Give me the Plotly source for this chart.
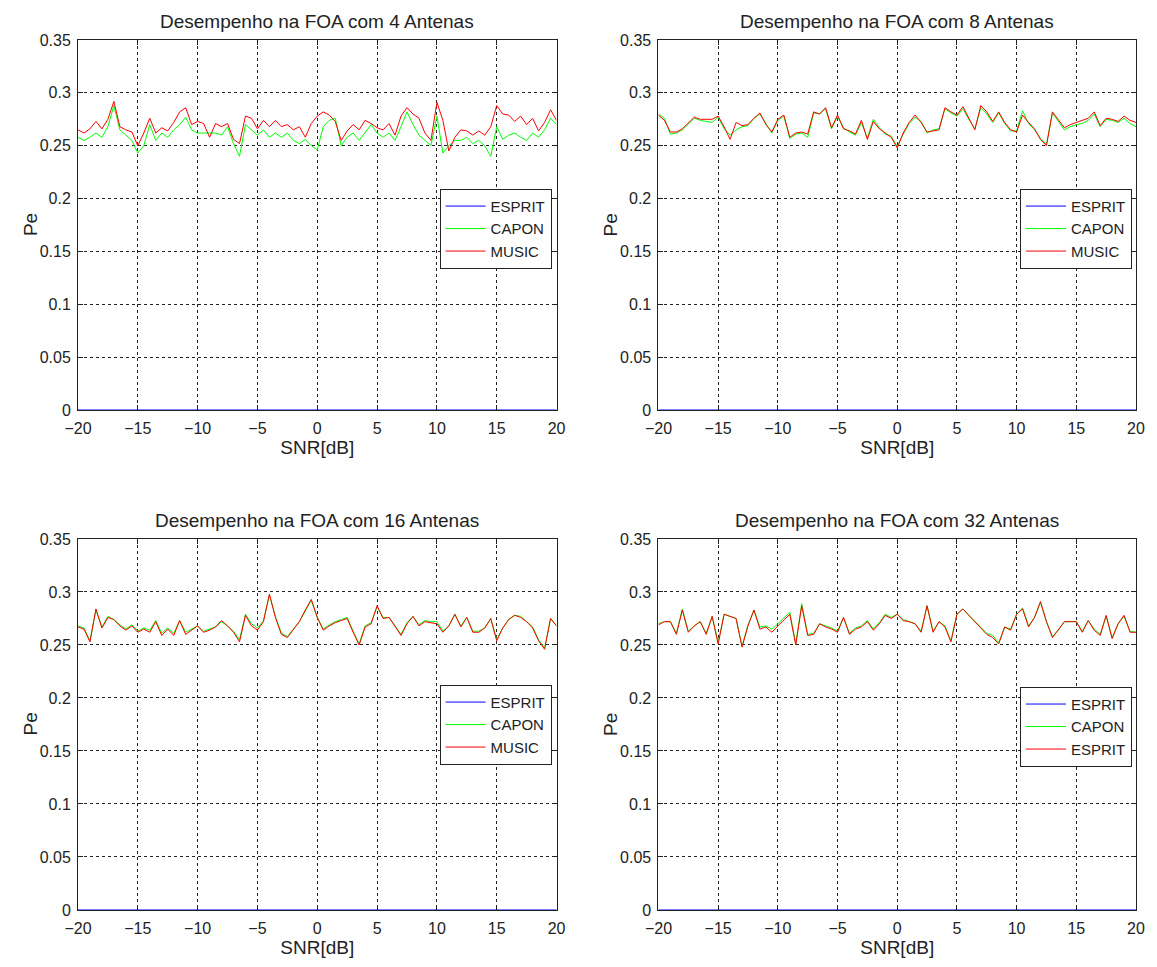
import plotly.graph_objects as go

snr = [-20 + 0.5 * i for i in range(81)]

music_4 = [0.265, 0.262, 0.266, 0.273, 0.266, 0.275, 0.292, 0.268, 0.265, 0.263,
           0.250, 0.262, 0.276, 0.262, 0.267, 0.264, 0.272, 0.282, 0.286, 0.270,
           0.273, 0.271, 0.258, 0.271, 0.268, 0.271, 0.256, 0.252, 0.278, 0.276,
           0.266, 0.274, 0.268, 0.274, 0.268, 0.270, 0.265, 0.268, 0.258, 0.271,
           0.278, 0.282, 0.279, 0.273, 0.255, 0.264, 0.270, 0.265, 0.274, 0.271,
           0.267, 0.265, 0.271, 0.260, 0.278, 0.286, 0.280, 0.276, 0.262, 0.255,
           0.291, 0.274, 0.245, 0.258, 0.265, 0.264, 0.260, 0.264, 0.260, 0.268,
           0.288, 0.280, 0.279, 0.273, 0.278, 0.270, 0.276, 0.264, 0.272, 0.284, 0.274]
capon_4 = [0.258, 0.255, 0.258, 0.262, 0.258, 0.268, 0.288, 0.265, 0.260, 0.255,
           0.243, 0.250, 0.270, 0.255, 0.262, 0.258, 0.265, 0.270, 0.277, 0.265,
           0.262, 0.262, 0.262, 0.262, 0.260, 0.268, 0.252, 0.240, 0.270, 0.265,
           0.260, 0.265, 0.258, 0.262, 0.258, 0.262, 0.255, 0.252, 0.256, 0.250,
           0.246, 0.268, 0.274, 0.276, 0.250, 0.258, 0.262, 0.255, 0.262, 0.270,
           0.262, 0.258, 0.262, 0.255, 0.268, 0.282, 0.270, 0.260, 0.255, 0.250,
           0.278, 0.243, 0.250, 0.255, 0.255, 0.258, 0.252, 0.255, 0.250, 0.240,
           0.268, 0.256, 0.260, 0.262, 0.258, 0.255, 0.262, 0.258, 0.265, 0.276, 0.270]

music_8 = [0.279, 0.274, 0.263, 0.263, 0.266, 0.272, 0.277, 0.275, 0.275, 0.275,
           0.278, 0.268, 0.256, 0.272, 0.269, 0.270, 0.276, 0.281, 0.270, 0.263,
           0.275, 0.279, 0.258, 0.262, 0.263, 0.261, 0.282, 0.280, 0.286, 0.267,
           0.279, 0.266, 0.264, 0.261, 0.274, 0.256, 0.273, 0.266, 0.262, 0.258,
           0.248, 0.262, 0.272, 0.279, 0.272, 0.263, 0.264, 0.265, 0.286, 0.282,
           0.279, 0.287, 0.276, 0.265, 0.288, 0.282, 0.273, 0.282, 0.272, 0.265,
           0.263, 0.279, 0.272, 0.266, 0.256, 0.250, 0.282, 0.275, 0.267, 0.270,
           0.272, 0.274, 0.276, 0.282, 0.269, 0.276, 0.275, 0.273, 0.278, 0.274, 0.272]
capon_8 = [0.280, 0.276, 0.261, 0.262, 0.265, 0.271, 0.276, 0.274, 0.273, 0.272,
           0.277, 0.266, 0.260, 0.265, 0.268, 0.269, 0.276, 0.280, 0.271, 0.262,
           0.274, 0.278, 0.257, 0.261, 0.262, 0.258, 0.281, 0.280, 0.285, 0.266,
           0.278, 0.267, 0.263, 0.260, 0.272, 0.257, 0.275, 0.267, 0.261, 0.259,
           0.249, 0.261, 0.271, 0.277, 0.273, 0.262, 0.265, 0.266, 0.285, 0.281,
           0.278, 0.285, 0.275, 0.266, 0.286, 0.280, 0.272, 0.281, 0.271, 0.264,
           0.264, 0.283, 0.271, 0.265, 0.257, 0.251, 0.281, 0.273, 0.265, 0.268,
           0.270, 0.271, 0.274, 0.280, 0.268, 0.275, 0.274, 0.272, 0.276, 0.271, 0.268]

music_16 = [0.267, 0.265, 0.253, 0.284, 0.266, 0.276, 0.274, 0.268, 0.264, 0.268,
            0.262, 0.265, 0.262, 0.272, 0.259, 0.265, 0.259, 0.273, 0.260, 0.264,
            0.268, 0.262, 0.264, 0.267, 0.273, 0.268, 0.262, 0.253, 0.278, 0.268,
            0.264, 0.272, 0.298, 0.276, 0.260, 0.257, 0.264, 0.272, 0.283, 0.293,
            0.276, 0.264, 0.268, 0.271, 0.273, 0.275, 0.262, 0.250, 0.267, 0.270,
            0.287, 0.275, 0.276, 0.267, 0.259, 0.270, 0.277, 0.268, 0.272, 0.271,
            0.270, 0.262, 0.268, 0.279, 0.267, 0.276, 0.262, 0.262, 0.266, 0.275,
            0.254, 0.266, 0.274, 0.278, 0.276, 0.272, 0.266, 0.254, 0.246, 0.275, 0.268]
capon_16 = [0.268, 0.266, 0.254, 0.283, 0.267, 0.277, 0.274, 0.269, 0.265, 0.269,
            0.263, 0.266, 0.264, 0.273, 0.261, 0.266, 0.261, 0.273, 0.262, 0.265,
            0.268, 0.263, 0.265, 0.267, 0.272, 0.268, 0.263, 0.255, 0.279, 0.270,
            0.266, 0.273, 0.297, 0.277, 0.261, 0.258, 0.265, 0.272, 0.282, 0.292,
            0.276, 0.265, 0.269, 0.272, 0.274, 0.276, 0.263, 0.251, 0.268, 0.271,
            0.286, 0.276, 0.276, 0.268, 0.260, 0.271, 0.277, 0.269, 0.273, 0.272,
            0.272, 0.263, 0.268, 0.279, 0.268, 0.276, 0.263, 0.263, 0.266, 0.275,
            0.255, 0.266, 0.274, 0.278, 0.277, 0.272, 0.267, 0.255, 0.247, 0.275, 0.268]

esprit_32 = [0.269, 0.272, 0.272, 0.260, 0.283, 0.262, 0.268, 0.272, 0.260, 0.277,
             0.251, 0.279, 0.277, 0.275, 0.248, 0.268, 0.283, 0.265, 0.267, 0.262,
             0.268, 0.274, 0.279, 0.250, 0.287, 0.259, 0.260, 0.270, 0.267, 0.265,
             0.262, 0.276, 0.260, 0.265, 0.267, 0.272, 0.264, 0.270, 0.278, 0.275,
             0.279, 0.273, 0.272, 0.270, 0.262, 0.287, 0.262, 0.272, 0.267, 0.253,
             0.279, 0.284, 0.278, 0.272, 0.265, 0.260, 0.257, 0.251, 0.267, 0.264,
             0.279, 0.284, 0.267, 0.276, 0.291, 0.272, 0.257, 0.264, 0.272, 0.272,
             0.272, 0.262, 0.273, 0.264, 0.259, 0.278, 0.256, 0.270, 0.278, 0.262, 0.262]
capon_32 = [0.270, 0.272, 0.272, 0.261, 0.284, 0.263, 0.268, 0.272, 0.261, 0.277,
            0.252, 0.279, 0.277, 0.275, 0.249, 0.269, 0.283, 0.267, 0.268, 0.265,
            0.270, 0.276, 0.281, 0.251, 0.289, 0.260, 0.261, 0.270, 0.268, 0.266,
            0.263, 0.276, 0.261, 0.266, 0.268, 0.273, 0.265, 0.271, 0.279, 0.276,
            0.279, 0.274, 0.272, 0.270, 0.263, 0.287, 0.263, 0.272, 0.268, 0.254,
            0.279, 0.284, 0.278, 0.272, 0.266, 0.261, 0.259, 0.252, 0.267, 0.265,
            0.279, 0.285, 0.268, 0.276, 0.290, 0.272, 0.258, 0.264, 0.272, 0.272,
            0.272, 0.263, 0.273, 0.265, 0.260, 0.277, 0.257, 0.270, 0.277, 0.263, 0.262]

esprit_zero = [0.0] * 81

titles = ["Desempenho na FOA com 4 Antenas", "Desempenho na FOA com 8 Antenas",
          "Desempenho na FOA com 16 Antenas", "Desempenho na FOA com 32 Antenas"]
x_ticks = [-20, -15, -10, -5, 0, 5, 10, 15, 20]
y_ticks = [0, 0.05, 0.1, 0.15, 0.2, 0.25, 0.3, 0.35]
y_tick_text = ["0", "0.05", "0.1", "0.15", "0.2", "0.25", "0.3", "0.35"]

panels = [
    (["ESPRIT", "CAPON", "MUSIC"], [esprit_zero, capon_4, music_4]),
    (["ESPRIT", "CAPON", "MUSIC"], [esprit_zero, capon_8, music_8]),
    (["ESPRIT", "CAPON", "MUSIC"], [esprit_zero, capon_16, music_16]),
    (["ESPRIT", "CAPON", "ESPRIT"], [esprit_zero, capon_32, esprit_32]),
]
colors = ["#0000ff", "#00ff00", "#ff0000"]

W, H = 1157, 967
ml, mr, mt, mb = 78, 20, 40, 50
pw = W - ml - mr
ph = H - mt - mb

def px_x(p):
    return (p - ml) / pw

def px_y(p):
    return (H - mb - p) / ph

x_doms = [[px_x(78), px_x(557)], [px_x(659), px_x(1137)]]
y_doms = [[px_y(413), px_y(40)], [px_y(917), px_y(543)]]

fig = go.Figure()
FONT = "Liberation Sans, Arial, sans-serif"
INK = "#222222"
layout = dict(
    width=W, height=H, margin=dict(l=ml, r=mr, t=mt, b=mb),
    paper_bgcolor="white", plot_bgcolor="white",
    font=dict(family=FONT, size=16, color=INK),
    annotations=[],
)

legend_pos = [(552, 190), (1133, 190), (552, 690), (1133, 692)]
pe_x = [30, 611]

for i, (names, series) in enumerate(panels):
    r, c = divmod(i, 2)
    ax = "" if i == 0 else str(i + 1)
    xa, ya = "x" + ax, "y" + ax
    lg = "legend" if i == 0 else "legend" + str(i + 1)
    for name, ys, col in zip(names, series, colors):
        fig.add_trace(go.Scatter(x=snr, y=ys, mode="lines", name=name,
                                 line=dict(color=col, width=1),
                                 xaxis=xa, yaxis=ya, legend=lg, showlegend=True))
    axis_common = dict(showline=True, linecolor=INK, linewidth=1, mirror="ticks",
                       ticks="inside", ticklen=5, tickcolor=INK,
                       showgrid=True, gridcolor=INK, gridwidth=1, griddash="3px,3px",
                       zeroline=False, tickfont=dict(family=FONT, size=16, color=INK))
    layout["xaxis" + ax] = dict(axis_common, domain=x_doms[c], anchor=ya, range=[-20, 20],
                                tickvals=x_ticks, ticklabelstandoff=4,
                                title=dict(text="SNR[dB]", standoff=4,
                                           font=dict(family=FONT, size=19, color=INK)))
    layout["yaxis" + ax] = dict(axis_common, domain=y_doms[r], anchor=xa, range=[0, 0.35],
                                tickvals=y_ticks, ticktext=y_tick_text, ticklabelstandoff=3)
    lx, ly = legend_pos[i]
    layout[lg] = dict(x=px_x(lx), y=px_y(ly), xanchor="right", yanchor="top",
                      xref="paper", yref="paper",
                      bgcolor="white", bordercolor=INK, borderwidth=1,
                      font=dict(family=FONT, size=15, color=INK),
                      tracegroupgap=0, itemwidth=40)
    xd = x_doms[c]
    yd = y_doms[r]
    layout["annotations"].append(dict(text=titles[i], x=(xd[0] + xd[1]) / 2, y=yd[1],
                                      xref="paper", yref="paper", xanchor="center",
                                      yanchor="bottom", yshift=6, showarrow=False,
                                      font=dict(family=FONT, size=19, color=INK)))
    layout["annotations"].append(dict(text="Pe", x=px_x(pe_x[c]), y=(yd[0] + yd[1]) / 2,
                                      xref="paper", yref="paper", xanchor="center",
                                      yanchor="middle", textangle=-90, showarrow=False,
                                      font=dict(family=FONT, size=19, color=INK)))

fig.update_layout(**layout)
fig.write_html("out.html")
